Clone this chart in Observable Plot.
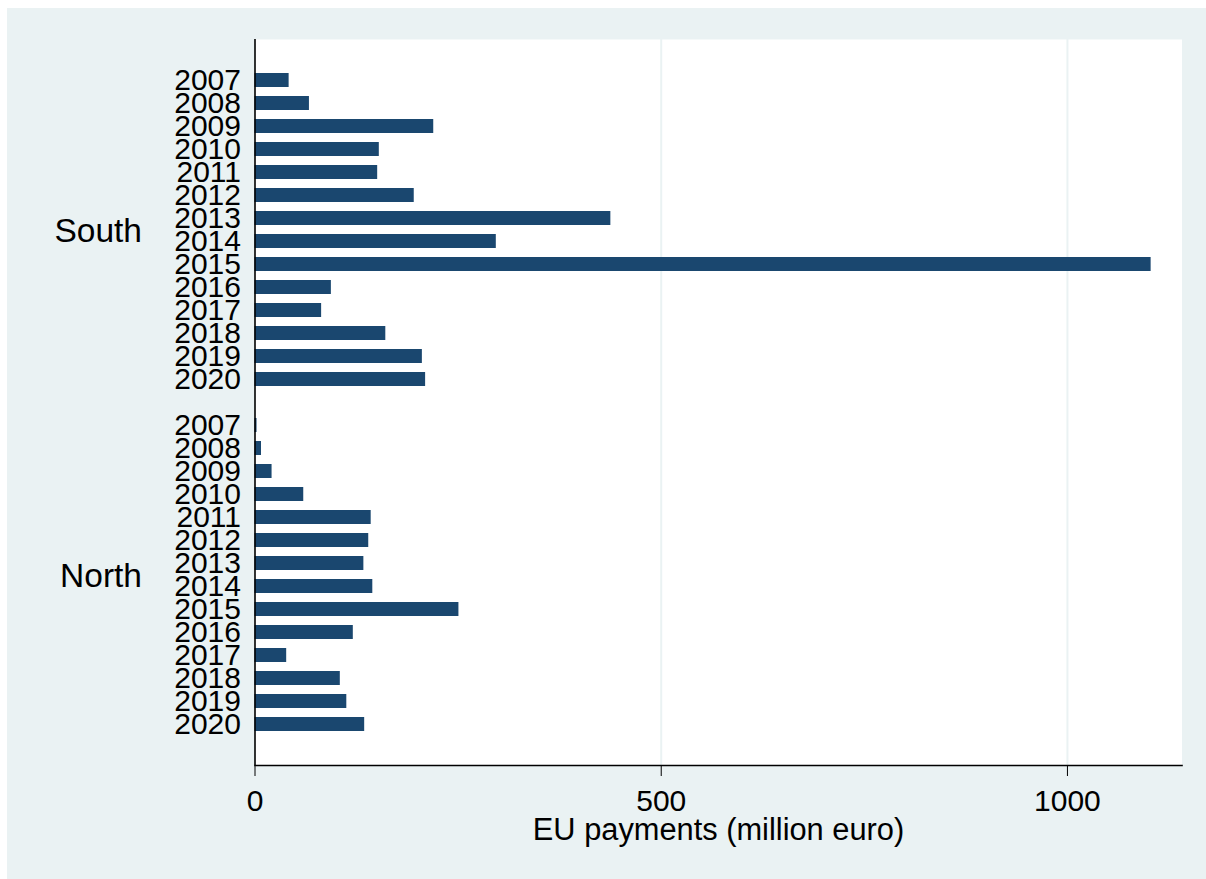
<!DOCTYPE html>
<html>
<head>
<meta charset="utf-8">
<script src="https://cdn.jsdelivr.net/npm/d3@7"></script>
<script src="https://cdn.jsdelivr.net/npm/@observablehq/plot@0.6"></script>
<style>
  html, body { margin: 0; padding: 0; background: #ffffff; }
  #panel { position: absolute; left: 7px; top: 8px; width: 1199px; height: 871px; background: #EAF2F3; }
  #panel svg { display: block; }
</style>
</head>
<body>
<div id="panel"></div>
<script>
// ---- data ----
const years = [2007, 2008, 2009, 2010, 2011, 2012, 2013, 2014, 2015, 2016, 2017, 2018, 2019, 2020];
const groups = ["South", "North"];
const southValues = [42, 67, 220, 153, 151, 196, 438, 297, 1103, 94, 82, 161, 206, 210];
const northValues = [2.5, 8, 21, 60, 143, 140, 134, 145, 251, 121, 39, 105, 113, 135];
const xTicks = [0, 500, 1000];
const xTitle = "EU payments (million euro)";

// ---- table built from the arrays ----
const seriesByGroup = {South: southValues, North: northValues};
const rows = [];
groups.forEach(g => years.forEach((yr, i) => rows.push({group: g, year: yr, key: g + " " + yr, value: seriesByGroup[g][i]})));
const yDomain = [];
groups.forEach((g, gi) => {
  if (gi > 0) yDomain.push("gap " + gi);
  years.forEach(yr => yDomain.push(g + " " + yr));
});
const labelYear = years[6]; // group label sits between 7th and 8th year
const groupLabels = groups.map(g => ({group: g, key: g + " " + labelYear}));

const font = "'Liberation Sans', Arial, Helvetica, sans-serif";
const navy = "#1a476f";
const bg = "#EAF2F3";

const chart = Plot.plot({
  width: 1199,
  height: 871,
  marginLeft: 247.5,
  marginRight: 24.5,
  marginTop: 31,
  marginBottom: 114,
  style: {background: "transparent", fontFamily: font, color: "#000"},
  x: {domain: [0, 1141], label: null},
  y: {domain: yDomain, paddingInner: 0.38, paddingOuter: 1.445, label: null},
  marks: [
    Plot.frame({fill: "white", stroke: "none"}),
    Plot.gridX(xTicks.filter(d => d > 0), {stroke: bg, strokeOpacity: 1, strokeWidth: 2}),
    Plot.barX(rows, {x: "value", y: "key", fill: navy}),
    Plot.ruleX([0], {stroke: "#000", strokeWidth: 1.6}),
    Plot.frame({anchor: "bottom", stroke: "#000", strokeWidth: 1.6}),
    Plot.axisX({ticks: xTicks, tickSize: 11, tickPadding: 13, fontSize: 30, label: null, tickFormat: d => String(d)}),
    Plot.axisY({tickSize: 0, tickPadding: 14, fontSize: 30, label: null,
      tickFormat: k => k.startsWith("gap") ? "" : k.slice(-4)}),
    Plot.text(groupLabels, {x: () => 0, y: "key", text: "group", textAnchor: "end", dx: -113, dy: 13, fontSize: 33.5, fill: "#000"}),
    Plot.text([xTitle], {frameAnchor: "bottom", lineAnchor: "top", dy: 53, fontSize: 30.8, fill: "#000"})
  ]
});
document.getElementById("panel").appendChild(chart);
</script>
</body>
</html>
